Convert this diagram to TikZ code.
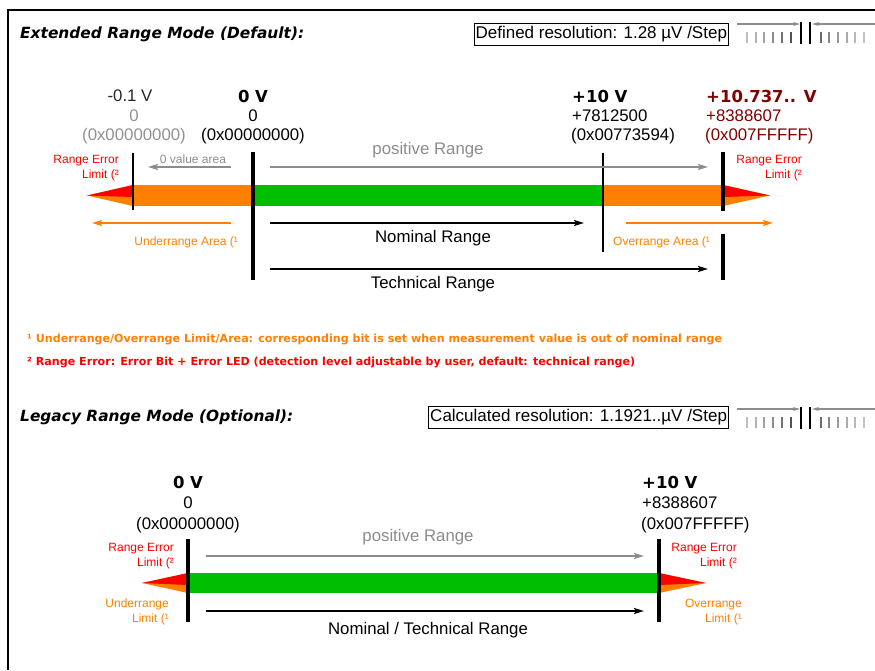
\documentclass[tikz,border=0pt]{standalone}
\usepackage{fontspec}
\setmainfont{Liberation Sans}
\newfontfamily\boldface{DejaVu Sans}
\usetikzlibrary{arrows.meta}
\definecolor{BarGreen}{RGB}{0,190,0}
\definecolor{BarOrange}{RGB}{255,128,0}
\definecolor{ErrRed}{RGB}{255,0,0}
\definecolor{MaxRed}{RGB}{128,0,0}
\definecolor{LineGrey}{RGB}{140,140,140}
\definecolor{ValGrey}{RGB}{145,145,145}
\tikzset{
ThickMark/.style={
 draw=black,
 line width=4pt
 },
ThinMark/.style={
 draw=black,
 line width=2pt
 },
Fleche/.style={
 line width=2pt,
 -{Stealth[length=10pt,width=6pt,inset=2pt]}
 },
GreyFleche/.style={Fleche, draw=LineGrey},
OrangeFleche/.style={Fleche, draw=BarOrange},
BlackFleche/.style={Fleche, draw=black},
ValText/.style={
 inner sep=0pt,
 font=\fontsize{16.8}{19}\selectfont
 },
BoldVal/.style={
 inner sep=0pt,
 font=\boldface\bfseries\fontsize{16.5}{19}\selectfont
 },
SmallText/.style={
 inner sep=0pt,
 align=right,
 font=\fontsize{12}{15}\selectfont
 },
TitleText/.style={
 inner sep=0pt,
 anchor=west,
 font=\boldface\bfseries\itshape\fontsize{15.4}{18}\selectfont
 },
NoteText/.style={
 inner sep=0pt,
 anchor=west,
 font=\boldface\bfseries\fontsize{11.1}{13}\selectfont
 },
ResBox/.style={
 draw=black,
 line width=1pt,
 inner sep=1.5pt,
 minimum height=22pt,
 anchor=east,
 font=\fontsize{17}{19}\selectfont
 }
}

\begin{document}
\begin{tikzpicture}[x=1pt,y=-1pt]
\useasboundingbox (0,0) rectangle (875,670);
\draw[line width=2pt] (8,670) -- (8,10) -- (875,10);
\foreach \dy in {0,385} {
\begin{scope}[shift={(0,\dy)}]
\draw[LineGrey, line width=1.5pt, -{Stealth[length=7pt,width=4pt]}] (737,24) -- (800,24);
\draw[LineGrey, line width=1.5pt, -{Stealth[length=7pt,width=4pt]}] (875,24) -- (812,24);
\draw[line width=2.5pt] (801,22) -- (801,44) (810,22) -- (810,44);
\foreach \x/\g in {747/25,756/30,764/36,773/45,782/55,791/68}
 \draw[line width=2pt, black!\g] (\x,32) -- (\x,43);
\foreach \x/\g in {821/58,829/48,838/40,847/33,855/28,864/23}
 \draw[line width=2pt, black!\g] (\x,32) -- (\x,43);
\end{scope}
}

\node[TitleText] (extTitle) at (20,34) {Extended Range Mode (Default):};
\node[ResBox] (extRes) at (729,34) {Defined resolution: 1.28 µV /Step};

\node[ValText, text=black!85] (lo) at (130,96) {-0.1 V};
\node[ValText, text=ValGrey] (loDec) at (134,116) {0};
\node[ValText, text=ValGrey] (loHex) at (134,136) {(0x00000000)};
\node[BoldVal] (zero) at (253,96) {0 V};
\node[ValText] (zeroDec) at (253,116) {0};
\node[ValText] (zeroHex) at (253,136) {(0x00000000)};
\node[BoldVal, anchor=west] (ten) at (572,96) {+10 V};
\node[ValText, anchor=west] (tenDec) at (572,116) {+7812500};
\node[ValText, anchor=west] (tenHex) at (571,136) {(0x00773594)};
\node[BoldVal, anchor=west, text=MaxRed] (top) at (706,96) {+10.737.. V};
\node[ValText, anchor=west, text=MaxRed] (topDec) at (706,116) {+8388607};
\node[ValText, anchor=west, text=MaxRed] (topHex) at (705,136) {(0x007FFFFF)};

\fill[BarOrange] (133,185) rectangle (253,206);
\fill[BarGreen] (253,185) rectangle (603,206);
\fill[BarOrange] (603,185) rectangle (723,206);
\fill[BarOrange] (133,185) -- (87,195.5) -- (133,206) -- cycle;
\fill[ErrRed] (133,185) -- (87,195.5) -- (133,197) -- cycle;
\fill[BarOrange] (723,185) -- (770,195.5) -- (723,206) -- cycle;
\fill[ErrRed] (723,185) -- (770,195.5) -- (723,197) -- cycle;

\draw[ThinMark] (133,153) -- (133,210);
\draw[ThickMark] (253,152) -- (253,280);
\draw[ThinMark] (603,153) -- (603,252);
\draw[ThickMark] (723,152) -- (723,211);
\draw[ThickMark] (723,234) -- (723,280);

\node[SmallText, text=ErrRed, anchor=east] (errLo) at (119,168) {Range Error\\Limit (²};
\node[SmallText, text=ErrRed, anchor=east] (errHi) at (802,168) {Range Error\\Limit (²};
\node[SmallText, text=LineGrey] (zeroArea) at (193,159) {0 value area};
\draw[GreyFleche] (231,167) -- (148,167);
\node[ValText, text=LineGrey] (posRange) at (428,150) {positive Range};
\draw[GreyFleche] (270,167) -- (708,167);

\draw[OrangeFleche] (231,223) -- (92,223);
\node[SmallText, text=BarOrange, anchor=east] (underArea) at (238,242) {Underrange Area (¹};
\draw[OrangeFleche] (626,223) -- (773,223);
\node[SmallText, text=BarOrange, anchor=west] (overArea) at (613,242) {Overrange Area (¹};
\draw[BlackFleche] (270,223) -- (584,223);
\node[ValText] (nomRange) at (433,238) {Nominal Range};
\draw[BlackFleche] (270,269) -- (708,269);
\node[ValText] (techRange) at (433,284) {Technical Range};

\node[NoteText, text=BarOrange] (noteOne) at (27,339) {¹ Underrange/Overrange Limit/Area: corresponding bit is set when measurement value is out of nominal range};
\node[NoteText, text=ErrRed] (noteTwo) at (27,362) {² Range Error: Error Bit + Error LED (detection level adjustable by user, default: technical range)};

\node[TitleText] (legTitle) at (20,417) {Legacy Range Mode (Optional):};
\node[ResBox] (legRes) at (729,417) {Calculated resolution: 1.1921..µV /Step};

\node[BoldVal] (lzero) at (188,482) {0 V};
\node[ValText] (lzeroDec) at (188,503) {0};
\node[ValText] (lzeroHex) at (188,525) {(0x00000000)};
\node[BoldVal, anchor=west] (lten) at (642,482) {+10 V};
\node[ValText, anchor=west] (ltenDec) at (642,503) {+8388607};
\node[ValText, anchor=west] (ltenHex) at (641,525) {(0x007FFFFF)};

\fill[BarGreen] (188,573) rectangle (659,593);
\fill[BarOrange] (188,573) -- (142,583) -- (188,593) -- cycle;
\fill[ErrRed] (188,573) -- (142,583) -- (188,585) -- cycle;
\fill[BarOrange] (659,573) -- (706,583) -- (659,593) -- cycle;
\fill[ErrRed] (659,573) -- (706,583) -- (659,585) -- cycle;
\draw[ThickMark] (188,539) -- (188,622);
\draw[ThickMark] (659,539) -- (659,622);

\node[SmallText, text=ErrRed, anchor=east] (lerrLo) at (174,556) {Range Error\\Limit (²};
\node[SmallText, text=BarOrange, anchor=east] (lunder) at (169,612) {Underrange\\Limit (¹};
\node[SmallText, text=ErrRed, anchor=east] (lerrHi) at (737,556) {Range Error\\Limit (²};
\node[SmallText, text=BarOrange, anchor=east] (lover) at (742,612) {Overrange\\Limit (¹};

\node[ValText, text=LineGrey] (lposRange) at (418,537) {positive Range};
\draw[GreyFleche] (206,556) -- (644,556);
\draw[BlackFleche] (206,611) -- (644,611);
\node[ValText] (lnomRange) at (428,630) {Nominal / Technical Range};
\end{tikzpicture}
\end{document}
